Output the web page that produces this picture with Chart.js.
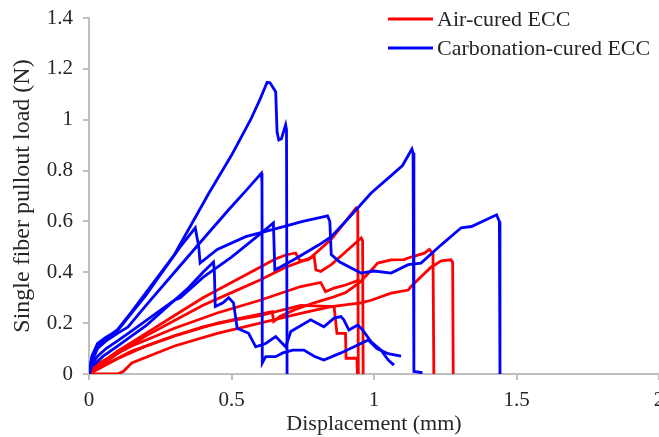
<!DOCTYPE html>
<html>
<head>
<meta charset="utf-8">
<script src="https://cdn.jsdelivr.net/npm/chart.js@4.4.1/dist/chart.umd.min.js"></script>
<style>
    html, body { margin: 0; padding: 0; background: #fff; }
    #wrap { width: 659px; height: 437px; position: relative; }
</style>
</head>
<body>
<div id="wrap"><canvas id="pullout"></canvas></div>
<script>
'use strict';

// displacement (mm), load (N) pairs
var airCured1 = [[0,0],[0.02,0.03],[0.05,0.05],[0.1,0.09],[0.2,0.16],[0.3,0.23],[0.4,0.3],[0.5,0.36],[0.6,0.42],[0.65,0.45],[0.69,0.468],[0.725,0.476],[0.74,0.445],[0.77,0.45],[0.8,0.48],[0.85,0.53],[0.9,0.6],[0.937,0.653],[0.943,0.645],[0.945,0]];
var airCured2 = [[0,0],[0.02,0.02],[0.05,0.04],[0.1,0.08],[0.2,0.15],[0.3,0.21],[0.4,0.27],[0.5,0.32],[0.6,0.37],[0.69,0.42],[0.76,0.449],[0.79,0.462],[0.796,0.41],[0.813,0.403],[0.85,0.43],[0.9,0.48],[0.955,0.535],[0.96,0.525],[0.962,0]];
var airCured3 = [[0,0],[0.03,0.02],[0.08,0.05],[0.15,0.09],[0.3,0.15],[0.45,0.2],[0.6,0.235],[0.643,0.245],[0.648,0.207],[0.67,0.226],[0.72,0.252],[0.79,0.28],[0.85,0.3],[0.9,0.32],[0.95,0.36],[1.0,0.42],[1.013,0.436],[1.06,0.449],[1.105,0.45],[1.13,0.46],[1.177,0.475],[1.194,0.49],[1.207,0.475],[1.21,0]];
var airCured4 = [[0,0],[0.1,0],[0.12,0.01],[0.15,0.043],[0.3,0.11],[0.45,0.16],[0.6,0.2],[0.75,0.24],[0.85,0.265],[0.954,0.28],[0.99,0.29],[1.06,0.318],[1.12,0.33],[1.13,0.344],[1.2,0.42],[1.236,0.445],[1.27,0.449],[1.276,0.44],[1.278,0]];
var airCured5 = [[0,0],[0.05,0.03],[0.1,0.06],[0.2,0.11],[0.3,0.15],[0.4,0.185],[0.5,0.21],[0.6,0.23],[0.743,0.27],[0.86,0.265],[0.87,0.16],[0.9,0.16],[0.902,0.062],[0.94,0.062],[0.942,0]];
var airCured6 = [[0,0],[0.03,0.04],[0.08,0.07],[0.15,0.11],[0.3,0.18],[0.45,0.24],[0.6,0.29],[0.743,0.344],[0.813,0.36],[0.83,0.324],[0.86,0.338],[0.9,0.35],[0.95,0.37]];

var carbCured1 = [[0,0],[0.005,0.04],[0.015,0.08],[0.03,0.11],[0.06,0.14],[0.1,0.175],[0.15,0.245],[0.2,0.32],[0.25,0.395],[0.3,0.47],[0.36,0.59],[0.42,0.71],[0.5,0.86],[0.567,1.0],[0.6,1.08],[0.625,1.147],[0.635,1.145],[0.655,1.11],[0.66,0.95],[0.666,0.92],[0.675,0.925],[0.69,0.98],[0.693,0.96],[0.695,0]];
var carbCured2 = [[0,0],[0.01,0.05],[0.03,0.1],[0.06,0.13],[0.1,0.16],[0.137,0.185],[0.2,0.27],[0.3,0.4],[0.4,0.53],[0.49,0.646],[0.55,0.72],[0.605,0.79],[0.607,0.75],[0.608,0.043],[0.62,0.068],[0.655,0.068],[0.68,0.083],[0.715,0.094],[0.754,0.094],[0.79,0.07],[0.824,0.055],[0.884,0.083],[0.943,0.114],[0.98,0.134],[1.01,0.1],[1.05,0.08],[1.095,0.07]];
var carbCured3 = [[0,0],[0.01,0.07],[0.03,0.12],[0.06,0.145],[0.1,0.17],[0.15,0.24],[0.2,0.31],[0.25,0.39],[0.32,0.5],[0.373,0.575],[0.385,0.5],[0.39,0.436],[0.45,0.49],[0.55,0.54],[0.65,0.57],[0.75,0.6],[0.837,0.622],[0.845,0.6],[0.85,0.47],[0.88,0.44],[0.954,0.397],[1.0,0.405],[1.06,0.397],[1.12,0.43],[1.165,0.436],[1.236,0.508],[1.306,0.575],[1.342,0.58],[1.43,0.626],[1.44,0.6],[1.442,0]];
var carbCured4 = [[0,0],[0.01,0.03],[0.05,0.07],[0.1,0.11],[0.15,0.15],[0.2,0.19],[0.25,0.24],[0.3,0.29],[0.32,0.3],[0.4,0.38],[0.5,0.46],[0.6,0.55],[0.647,0.594],[0.652,0.41],[0.67,0.42],[0.72,0.45],[0.81,0.51],[0.85,0.54],[0.9,0.6],[0.943,0.653],[0.99,0.712],[1.06,0.78],[1.1,0.82],[1.133,0.885],[1.137,0.87],[1.14,0.01],[1.17,0.005]];
var carbCured5 = [[0,0],[0.01,0.04],[0.03,0.07],[0.06,0.1],[0.1,0.13],[0.15,0.17],[0.2,0.21],[0.25,0.25],[0.3,0.29],[0.35,0.34],[0.4,0.4],[0.437,0.44],[0.44,0.4],[0.443,0.265],[0.47,0.28],[0.49,0.3],[0.507,0.28],[0.52,0.18],[0.56,0.16],[0.585,0.107],[0.62,0.12],[0.655,0.147],[0.69,0.107],[0.708,0.167],[0.778,0.213],[0.824,0.186],[0.86,0.22],[0.884,0.226],[0.894,0.213],[0.912,0.173],[0.943,0.193],[0.96,0.173],[0.99,0.127],[1.025,0.094],[1.05,0.055],[1.07,0.035]];

var airCuredCurves = [airCured1, airCured2, airCured3, airCured4, airCured5, airCured6];
var carbCuredCurves = [carbCured1, carbCured2, carbCured3, carbCured4, carbCured5];
var seriesNames = ['Air-cured ECC', 'Carbonation-cured ECC'];
var seriesColors = ['#ff0000', '#0000ff'];
var xTicks = [0, 0.5, 1, 1.5, 2];
var yTicks = [0, 0.2, 0.4, 0.6, 0.8, 1, 1.2, 1.4];

var fontFamily = '"Liberation Serif", "Times New Roman", serif';
var axisGrey = '#bfbfbf';
var textColor = '#262626';

function toPoints(curve) {
    return curve.map(function (p) { return {x: p[0], y: p[1]}; });
}

function makeDataset(curve, color) {
    return {
        data: toPoints(curve),
        borderColor: color,
        backgroundColor: color,
        borderWidth: 2.8,
        pointRadius: 0,
        tension: 0,
        fill: false,
        showLine: true
    };
}

function plainNumber(value) {
    return String(Math.round(value * 10) / 10);
}

var datasets = [];
// blue first so it sits on top, like the original
carbCuredCurves.forEach(function (c) { datasets.push(makeDataset(c, seriesColors[1])); });
airCuredCurves.forEach(function (c) { datasets.push(makeDataset(c, seriesColors[0])); });

// legend drawn by hand, two rows at the top right
var cornerLegend = {
    id: 'cornerLegend',
    afterDraw: function (chart) {
        var ctx = chart.ctx;
        ctx.save();
        ctx.font = '22px ' + fontFamily;
        ctx.textBaseline = 'middle';
        for (var i = 0; i < seriesNames.length; i++) {
            var y = 19 + i * 29;
            ctx.strokeStyle = seriesColors[i];
            ctx.lineWidth = 2.8;
            ctx.beginPath();
            ctx.moveTo(388, y);
            ctx.lineTo(433, y);
            ctx.stroke();
            ctx.fillStyle = textColor;
            ctx.fillText(seriesNames[i], 437, y + 1);
        }
        ctx.restore();
    }
};

var ctx = document.getElementById('pullout');
var pulloutChart = new Chart(ctx, {
    type: 'scatter',
    data: {datasets: datasets},
    plugins: [cornerLegend],
    options: {
        responsive: true,
        maintainAspectRatio: false,
        animation: false,
        layout: {padding: {top: 18, right: 0, left: 0, bottom: 0}},
        plugins: {
            legend: {display: false},
            tooltip: {enabled: false}
        },
        scales: {
            x: {
                type: 'linear',
                min: 0,
                max: 2,
                afterBuildTicks: function (scale) {
                    scale.ticks = xTicks.map(function (v) { return {value: v}; });
                },
                afterFit: function (scale) {
                    scale.height = 63;
                    scale.paddingRight = 0;
                },
                grid: {display: true, drawOnChartArea: false, color: axisGrey, tickLength: 6, lineWidth: 2},
                border: {color: axisGrey, width: 2},
                ticks: {color: textColor, padding: 8, maxRotation: 0, callback: plainNumber, font: {family: fontFamily, size: 21}},
                title: {display: true, text: 'Displacement (mm)', color: textColor, padding: {top: 0, bottom: 0}, font: {family: fontFamily, size: 22}}
            },
            y: {
                type: 'linear',
                min: 0,
                max: 1.4,
                afterBuildTicks: function (scale) {
                    scale.ticks = yTicks.map(function (v) { return {value: v}; });
                },
                afterFit: function (scale) {
                    scale.width = 89;
                    scale.paddingTop = 0;
                    scale.paddingBottom = 0;
                },
                grid: {display: true, drawOnChartArea: false, color: axisGrey, tickLength: 6, lineWidth: 2},
                border: {color: axisGrey, width: 2},
                ticks: {color: textColor, padding: 10, callback: plainNumber, font: {family: fontFamily, size: 21}},
                title: {display: true, text: 'Single fiber pullout load (N)', color: textColor, padding: {top: 8, bottom: 0}, font: {family: fontFamily, size: 24}}
            }
        }
    }
});
</script>
</body>
</html>
